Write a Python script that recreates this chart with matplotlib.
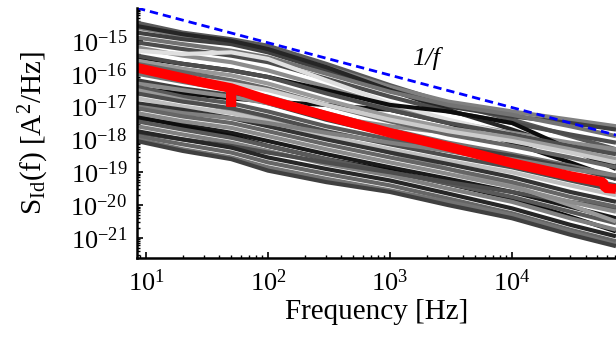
"""plot.py — drain-current noise spectra of the device set, with the mean spectrum and a 1/f guide."""
import numpy as np
import matplotlib
matplotlib.use("Agg")
import matplotlib.pyplot as plt
from matplotlib.ticker import LogLocator, NullFormatter

# ---- Data (log10 of S_Id in A^2/Hz) -----------------------------------------
freq_grid = [8.44, 20, 50, 100, 300, 1000, 3000, 10000, 30000, 71100]

upper_curves = [
    [-14.45, -14.75, -14.95, -15.15, -15.70, -16.35, -16.90, -17.40, -17.90, -18.30],
    [-14.60, -14.85, -15.05, -15.30, -15.80, -16.40, -16.85, -17.15, -17.40, -17.60],
    [-14.75, -14.95, -15.10, -15.35, -15.90, -16.50, -17.00, -17.30, -17.50, -17.70],
    [-14.55, -14.80, -15.00, -15.25, -15.80, -16.50, -17.10, -17.70, -18.30, -18.80],
    [-14.90, -15.10, -15.30, -15.50, -16.00, -16.55, -16.95, -17.25, -17.60, -17.90],
    [-15.05, -15.25, -15.45, -15.65, -16.15, -16.70, -17.15, -17.50, -17.85, -18.10],
    [-15.20, -15.45, -15.65, -15.90, -16.40, -17.00, -17.45, -17.80, -18.10, -18.30],
    [-15.30, -15.40, -15.35, -15.55, -16.20, -16.90, -17.40, -17.85, -18.20, -18.50],
    [-15.50, -15.70, -15.90, -16.10, -16.50, -16.95, -17.15, -17.50, -18.30, -18.90],
    [-15.45, -15.70, -15.90, -16.10, -16.60, -17.10, -17.50, -17.85, -18.20, -18.45],
    [-15.60, -15.85, -16.05, -16.30, -16.80, -17.30, -17.65, -17.95, -18.30, -18.60],
    [-15.70, -15.95, -16.20, -16.45, -16.95, -17.45, -17.85, -18.20, -18.55, -18.85],
    [-15.90, -16.10, -16.30, -16.50, -16.95, -17.40, -17.75, -18.05, -18.40, -18.70],
]
upper_shades = ["0.35", "0.5", "0.25", "0.15", "0.45", "0.3", "0.55",
                "0.88", "0.05", "0.3", "0.6", "0.4", "0.8"]

middle_curves = [
    [-16.45, -16.60, -16.75, -16.85, -16.95, -17.10, -17.50, -18.10, -18.70, -19.20],
    [-16.00, -16.25, -16.50, -16.70, -17.20, -17.70, -18.10, -18.45, -18.80, -19.10],
    [-16.20, -16.45, -16.65, -16.90, -17.40, -17.85, -18.20, -18.50, -18.85, -19.20],
    [-16.30, -16.50, -16.70, -16.90, -17.30, -17.60, -17.80, -18.00, -18.20, -18.40],
    [-16.40, -16.70, -16.90, -17.15, -17.60, -18.00, -18.35, -18.70, -19.10, -19.40],
    [-16.50, -16.80, -17.10, -17.40, -17.90, -18.40, -18.90, -19.40, -20.00, -20.50],
    [-16.60, -16.85, -17.05, -17.30, -17.75, -18.15, -18.50, -18.85, -19.25, -19.55],
    [-16.75, -17.00, -17.20, -17.45, -17.90, -18.30, -18.65, -19.00, -19.40, -19.70],
    [-16.90, -17.10, -17.35, -17.60, -18.00, -18.40, -18.75, -19.15, -19.60, -19.90],
    [-17.00, -17.20, -17.35, -17.50, -17.80, -18.10, -18.35, -18.60, -18.90, -19.10],
    [-17.05, -17.30, -17.50, -17.75, -18.15, -18.55, -18.90, -19.30, -19.75, -20.05],
    [-17.20, -17.45, -17.65, -17.90, -18.30, -18.70, -19.05, -19.45, -19.90, -20.20],
]
middle_shades = ["0.05", "0.45", "0.25", "0.55", "0.35", "0.6",
                 "0.3", "0.75", "0.2", "0.5", "0.4", "0.55"]

lower_curves = [
    [-17.35, -17.55, -17.80, -18.05, -18.45, -18.85, -19.20, -19.60, -20.05, -20.40],
    [-17.30, -17.60, -17.90, -18.20, -18.60, -18.95, -19.35, -19.80, -20.35, -20.80],
    [-17.45, -17.70, -17.95, -18.20, -18.60, -19.00, -19.35, -19.75, -20.20, -20.55],
    [-17.60, -17.85, -18.10, -18.35, -18.75, -19.10, -19.50, -19.90, -20.40, -20.75],
    [-17.80, -18.00, -18.20, -18.40, -18.70, -19.00, -19.30, -19.60, -19.90, -20.10],
    [-17.75, -18.00, -18.25, -18.55, -18.90, -19.25, -19.65, -20.10, -20.60, -20.95],
    [-17.90, -18.15, -18.40, -18.70, -19.05, -19.40, -19.80, -20.25, -20.75, -21.10],
    [-18.00, -18.30, -18.55, -18.85, -19.20, -19.55, -19.90, -20.30, -20.80, -21.20],
    [-18.05, -18.35, -18.60, -18.95, -19.30, -19.60, -20.00, -20.40, -20.90, -21.25],
]
lower_shades = ["0.1", "0.05", "0.35", "0.5", "0.3", "0.15", "0.4", "0.45", "0.25"]

# mean spectrum (red), including the 50 Hz mains line
red_freq = [8.44, 27.8, 50, 50, 50, 100, 305, 1000, 3050, 10000, 30500, 55700, 58000, 71100]
red_log = [-15.82, -16.25, -16.44, -17.00, -16.44, -16.80, -17.29, -17.80,
           -18.23, -18.72, -19.12, -19.30, -19.48, -19.51]

# 1/f guide (blue dashed)
blue_freq = [8.44, 71100]
blue_psd = [1.0e-14, 1.35e-18]

# ---- Style ------------------------------------------------------------------
plt.rcParams["font.family"] = "serif"
plt.rcParams["font.serif"] = ["Liberation Serif", "DejaVu Serif"]
plt.rcParams["mathtext.fontset"] = "custom"
plt.rcParams["mathtext.rm"] = "Liberation Serif"
plt.rcParams["mathtext.it"] = "Liberation Serif:italic"
plt.rcParams["mathtext.bf"] = "Liberation Serif:bold"
plt.rcParams["axes.unicode_minus"] = False

fig = plt.figure(figsize=(6.16, 3.49), dpi=100)
ax = fig.add_axes([137 / 616, 91 / 349, 479 / 616, 250 / 349])

# ---- Spectra ----------------------------------------------------------------
for curves, shades in ((lower_curves, lower_shades),
                       (middle_curves, middle_shades),
                       (upper_curves, upper_shades)):
    for vals, c in zip(curves, shades):
        ax.plot(freq_grid, 10.0 ** np.array(vals), color=c, lw=3.0,
                solid_capstyle="butt")

ax.plot(red_freq, 10.0 ** np.array(red_log), color="red", lw=7.0,
        solid_joinstyle="bevel", solid_capstyle="butt")
ax.plot(blue_freq, blue_psd, color="blue", lw=2.0, ls=(0, (3.0, 1.8)))
ax.text(1970, 3.0e-16, "1/f", fontsize=19, style="italic",
        ha="center", va="center")

# ---- Axes -------------------------------------------------------------------
ax.set_xscale("log")
ax.set_yscale("log")
ax.set_xlim(8.44, 71100)
ax.set_ylim(10 ** -21.61, 1e-14)

ax.set_yticks([10.0 ** k for k in range(-21, -14)])
ax.xaxis.set_major_locator(LogLocator(base=10, numticks=20))
ax.xaxis.set_minor_locator(LogLocator(base=10, subs=np.arange(2, 10), numticks=100))
ax.yaxis.set_minor_locator(LogLocator(base=10, subs=np.arange(2, 10), numticks=100))
ax.xaxis.set_minor_formatter(NullFormatter())
ax.yaxis.set_minor_formatter(NullFormatter())

for side in ("top", "right"):
    ax.spines[side].set_visible(False)
for side in ("left", "bottom"):
    ax.spines[side].set_linewidth(1.8)

ax.tick_params(which="major", direction="in", length=4, width=1.2,
               labelsize=19, pad=7)
ax.tick_params(axis="x", which="major", pad=8)
ax.tick_params(which="minor", direction="in", length=2.5, width=1.0)

ax.set_xlabel("Frequency [Hz]", fontsize=21)
ax.set_ylabel(r"$\mathregular{S_{Id}(f)\ [A^2/Hz]}$", fontsize=21)
ax.xaxis.set_label_coords(0.5, -0.165)
ax.yaxis.set_label_coords(-0.18, 0.5)

fig.savefig("out.png", dpi=100)
